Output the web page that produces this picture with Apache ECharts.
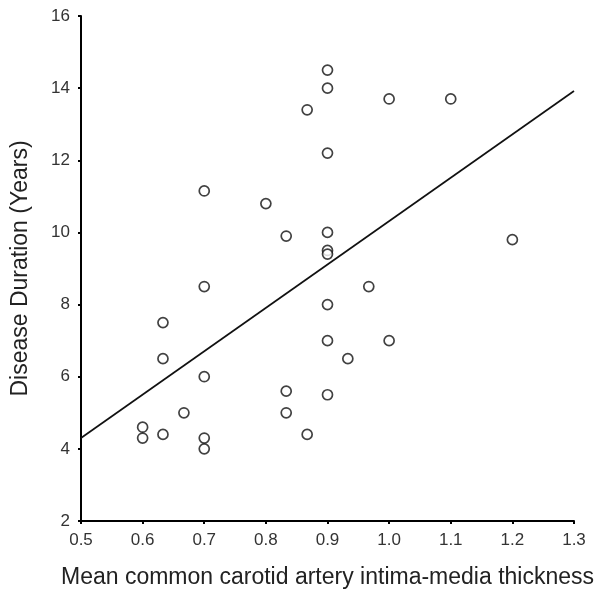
<!DOCTYPE html>
<html>
<head>
<meta charset="utf-8">
<script src="https://cdn.jsdelivr.net/npm/echarts@6/dist/echarts.min.js"></script>
<style>
html,body{margin:0;padding:0;background:#fff;}
#main{width:604px;height:590px;}
</style>
</head>
<body>
<div id="main"></div>
<script>
// 数据：IMT 与病程
let imt = [0.6, 0.6, 0.633, 0.633, 0.633, 0.667, 0.7, 0.7, 0.7, 0.7, 0.7,
           0.8, 0.833, 0.833, 0.833, 0.867, 0.867, 0.9, 0.9, 0.9, 0.9, 0.9, 0.9,
           0.9, 0.9, 0.9, 0.933, 0.967, 1.0, 1.0, 1.1, 1.2];
let duration = [4.6, 4.3, 4.4, 7.5, 6.5, 5.0, 6.0, 4.3, 4.0, 8.5, 11.15,
                10.8, 9.9, 5.6, 5.0, 13.4, 4.4, 14.5, 14.0, 12.2, 10.0, 9.5, 9.4,
                8.0, 7.0, 5.5, 6.5, 8.5, 13.7, 7.0, 13.7, 9.8];
// 回归线两端
let fitX = [0.5, 1.3];
let fitY = [4.3, 13.92];

let myChart = echarts.init(document.getElementById('main'));
myChart.setOption({
    animation:false,
    textStyle:{fontFamily:"Liberation Sans"},
    grid:{left:81, right:30, top:16, bottom:69, outerBoundsMode:"none", containLabel:false},
    xAxis:{
        type:"value",
        min:0.5,
        max:1.3,
        interval:0.1,
        name:"Mean common carotid artery intima-media thickness",
        nameLocation:"middle",
        nameGap:45,
        nameTextStyle:{fontSize:23, color:"#222"},
        axisLine:{lineStyle:{color:"#000", width:2}},
        axisTick:{show:true, length:3, lineStyle:{color:"#000", width:2}},
        axisLabel:{fontSize:17, color:"#333", margin:11, formatter:v => v.toFixed(1)},
        splitLine:{show:false}
    },
    yAxis:{
        type:"value",
        min:2,
        max:16,
        interval:2,
        name:"Disease Duration (Years)",
        nameLocation:"middle",
        nameGap:49,
        nameTextStyle:{fontSize:23, color:"#222"},
        axisLine:{show:true, lineStyle:{color:"#000", width:2}},
        axisTick:{show:true, length:3, lineStyle:{color:"#000", width:2}},
        axisLabel:{fontSize:17, color:"#333", margin:11},
        splitLine:{show:false}
    },
    series:[
        {
            type:"scatter",
            symbol:"circle",
            symbolSize:10,
            itemStyle:{color:"#fff", borderColor:"#111", borderWidth:1.7},
            data:imt.map((x, i) => [x, duration[i]])
        },
        {
            type:"line",
            showSymbol:false,
            symbol:"none",
            lineStyle:{color:"#111", width:1.7},
            data:fitX.map((x, i) => [x, fitY[i]])
        }
    ]
});
</script>
</body>
</html>
